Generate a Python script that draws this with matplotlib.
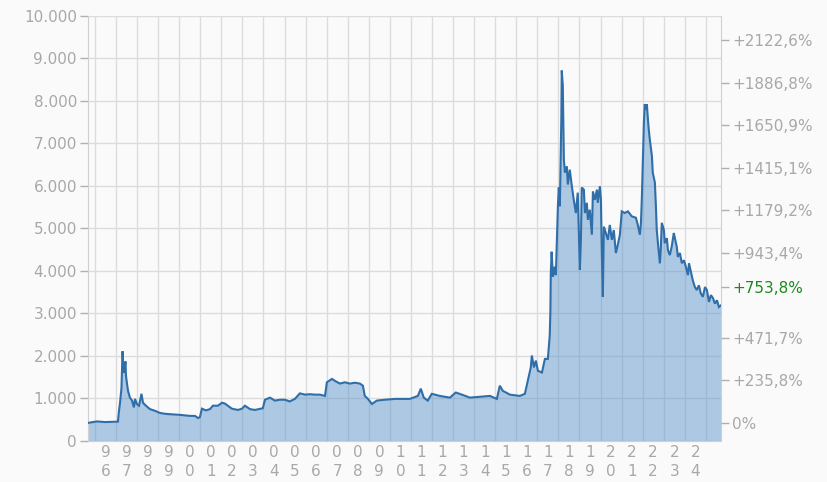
import matplotlib
matplotlib.use("Agg")
import matplotlib.pyplot as plt
import numpy as np

# ---- data (decimal year, index value) ----
years = [1995.67, 1995.86, 1996.09, 1996.47, 1996.81, 1997.09, 1997.14, 1997.19, 1997.26, 1997.31,
         1997.35, 1997.38, 1997.45, 1997.47, 1997.52, 1997.57, 1997.66, 1997.76, 1997.85, 1997.90,
         1997.99, 1998.09, 1998.21, 1998.28, 1998.42, 1998.61, 1998.85, 1999.08, 1999.32, 1999.56,
         2000.03, 2000.51, 2000.75, 2000.89, 2000.98, 2001.08, 2001.27, 2001.46, 2001.60, 2001.84,
         2002.03, 2002.17, 2002.31, 2002.50, 2002.79, 2002.98, 2003.12, 2003.36, 2003.59, 2003.97,
         2004.07, 2004.31, 2004.54, 2004.78, 2005.02, 2005.25, 2005.49, 2005.73, 2005.97, 2006.20,
         2006.44, 2006.68, 2006.92, 2007.01, 2007.25, 2007.44, 2007.63, 2007.87, 2008.10, 2008.34,
         2008.58, 2008.72, 2008.81, 2008.96, 2009.15, 2009.38, 2009.76, 2010.24, 2010.95, 2011.33,
         2011.47, 2011.61, 2011.80, 2011.99, 2012.37, 2012.85, 2013.13, 2013.42, 2013.80, 2014.27,
         2014.75, 2015.08, 2015.22, 2015.36, 2015.70, 2016.17, 2016.41, 2016.55, 2016.69, 2016.74,
         2016.84, 2016.93, 2017.03, 2017.22, 2017.36, 2017.50, 2017.59, 2017.62, 2017.64, 2017.68,
         2017.74, 2017.83, 2017.88, 2017.98, 2018.02, 2018.07, 2018.14, 2018.16, 2018.21, 2018.26,
         2018.31, 2018.40, 2018.45, 2018.54, 2018.64, 2018.73, 2018.83, 2018.92, 2018.97, 2019.02,
         2019.07, 2019.11, 2019.21, 2019.26, 2019.35, 2019.40, 2019.49, 2019.59, 2019.64, 2019.73,
         2019.83, 2019.87, 2019.97, 2020.02, 2020.06, 2020.11, 2020.16, 2020.25, 2020.35, 2020.44,
         2020.54, 2020.63, 2020.73, 2020.82, 2020.92, 2021.01, 2021.15, 2021.30, 2021.49, 2021.68,
         2021.77, 2021.87, 2021.92, 2021.96, 2022.01, 2022.06, 2022.10, 2022.15, 2022.20, 2022.25,
         2022.29, 2022.34, 2022.44, 2022.48, 2022.58, 2022.63, 2022.67, 2022.77, 2022.82, 2022.86,
         2022.91, 2023.01, 2023.05, 2023.15, 2023.20, 2023.29, 2023.38, 2023.48, 2023.53, 2023.62,
         2023.67, 2023.77, 2023.86, 2023.96, 2024.05, 2024.15, 2024.20, 2024.29, 2024.38, 2024.48,
         2024.57, 2024.67, 2024.76, 2024.86, 2024.96, 2025.05, 2025.15, 2025.24, 2025.34, 2025.43,
         2025.53, 2025.62, 2025.72]
values = [425, 440, 460, 445, 450, 455, 700, 900, 1250, 2110,
          1700, 1600, 1870, 1550, 1350, 1180, 1020, 950, 790, 990,
          870, 830, 1110, 900, 830, 750, 710, 660, 640, 630,
          615, 590, 590, 540, 560, 760, 720, 750, 830, 830,
          900, 880, 830, 760, 730, 760, 830, 750, 730, 770,
          970, 1020, 950, 970, 970, 930, 990, 1120, 1090, 1100,
          1090, 1090, 1060, 1380, 1460, 1400, 1350, 1380, 1350, 1370,
          1350, 1300, 1060, 990, 870, 950, 970, 990, 990, 1060,
          1230, 1020, 950, 1110, 1060, 1020, 1140, 1090, 1020, 1040,
          1060, 990, 1300, 1180, 1090, 1060, 1110, 1420, 1730, 2010,
          1730, 1890, 1650, 1610, 1930, 1930, 2480, 3030, 3940, 4450,
          3860, 4100, 3900, 5560, 5960, 5520, 7570, 8710, 8350, 6620,
          6310, 6460, 6030, 6380, 5990, 5670, 5360, 5840, 4890, 4020,
          4730, 5960, 5910, 5360, 5600, 5200, 5440, 4850, 5870, 5670,
          5910, 5600, 5990, 5670, 4500, 3390, 5040, 4890, 4730, 5080,
          4730, 4960, 4420, 4610, 4850, 5400, 5360, 5400, 5280, 5250,
          5080, 4850, 5130, 5670, 6550, 7490, 7920, 7800, 7920, 7570,
          7330, 7090, 6700, 6310, 6080, 5520, 4960, 4420, 4180, 4490,
          5130, 4960, 4650, 4770, 4490, 4370, 4570, 4890, 4770, 4570,
          4330, 4420, 4180, 4250, 4100, 3900, 4180, 3980, 3780, 3620,
          3550, 3660, 3470, 3390, 3620, 3550, 3270, 3430, 3360, 3230,
          3310, 3150, 3190]

left_ticks = [0, 1000, 2000, 3000, 4000, 5000, 6000, 7000, 8000, 9000, 10000]
left_labels = ['0', '1.000', '2.000', '3.000', '4.000', '5.000',
               '6.000', '7.000', '8.000', '9.000', '10.000']
base_value = 424
right_ticks = [424, 1424, 2424, 3620, 4424, 5424, 6424, 7424, 8424, 9424]
right_labels = ['0%', '+235,8%', '+471,7%', '+753,8%', '+943,4%', '+1179,2%',
                '+1415,1%', '+1650,9%', '+1886,8%', '+2122,6%']
highlight_label = '+753,8%'
year_ticks = list(range(1996, 2025))
year_labels = ['9\n6', '9\n7', '9\n8', '9\n9', '0\n0', '0\n1', '0\n2', '0\n3', '0\n4', '0\n5',
               '0\n6', '0\n7', '0\n8', '0\n9', '1\n0', '1\n1', '1\n2', '1\n3', '1\n4', '1\n5',
               '1\n6', '1\n7', '1\n8', '1\n9', '2\n0', '2\n1', '2\n2', '2\n3', '2\n4']

# ---- figure ----
bg = '#fafafa'
txt = '#a8a8a8'
grid_c = '#dcdcdc'
fig = plt.figure(figsize=(8.27, 4.82), dpi=100, facecolor=bg)
ax = fig.add_axes([88/827, 1-441/482, (721-88)/827, (441-15.7)/482])
ax.set_facecolor(bg)

ax.set_xlim(1995.67, 2025.72)
ax.set_ylim(0, 10000)

# grid
for y in left_ticks:
    ax.axhline(y, color=grid_c, lw=1, zorder=1)
for yr in range(1996, 2026):
    ax.axvline(yr, color=grid_c, lw=1, zorder=1)

ax.fill_between(years, values, 0, color='#5892ca', alpha=0.48, lw=0, zorder=2)
ax.plot(years, values, color='#2f6ea8', lw=1.5, zorder=3, solid_joinstyle='miter')

for s in ['left', 'bottom', 'right']:
    ax.spines[s].set_color('#d0d0d0')
ax.spines['top'].set_visible(False)

ax.set_yticks(left_ticks)
ax.set_yticklabels(left_labels)
ax.tick_params(axis='y', which='both', length=6, width=1, color='#b0b0b0',
               labelcolor=txt, labelsize=11, pad=2)

ax.set_xticks([y + 0.5 for y in year_ticks])
ax.set_xticklabels(year_labels, linespacing=1.35)
ax.tick_params(axis='x', length=0, labelcolor=txt, labelsize=11, pad=3)

ax2 = ax.twinx()
ax2.set_ylim(0, 10000)
ax2.set_yticks(right_ticks)
ax2.set_yticklabels(right_labels)
ax2.tick_params(axis='y', length=6, width=1, color='#b0b0b0', labelcolor=txt,
                labelsize=11, pad=2)
for s in ax2.spines.values():
    s.set_visible(False)
for lab in ax2.get_yticklabels():
    if lab.get_text() == highlight_label:
        lab.set_color('#1e8a1e')

fig.savefig('out.png', dpi=100, facecolor=bg)
